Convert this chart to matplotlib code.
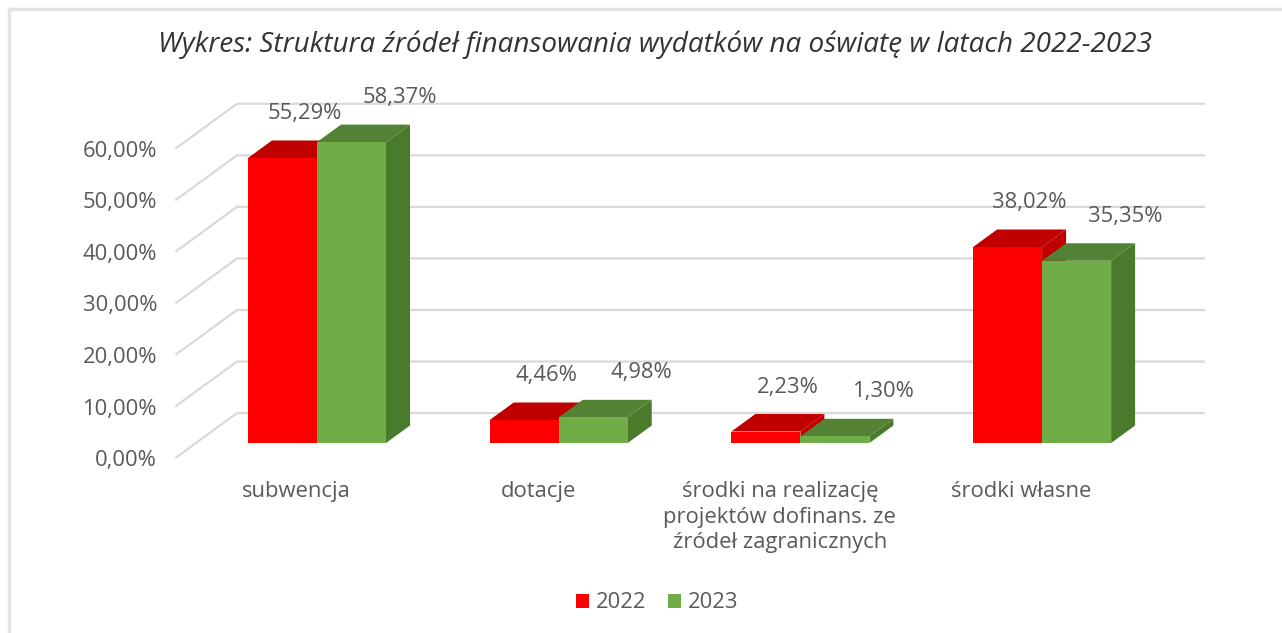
import matplotlib
matplotlib.use('Agg')
import matplotlib.pyplot as plt
from matplotlib.patches import Polygon, Rectangle
from matplotlib.lines import Line2D

plt.rcParams['font.family'] = ['Open Sans', 'DejaVu Sans']

# data
categories = ['subwencja', 'dotacje',
              'środki na realizację\nprojektów dofinans. ze\nźródeł zagranicznych',
              'środki własne']
years = ['2022', '2023']
values_2022 = [55.29, 4.46, 2.23, 38.02]
values_2023 = [58.37, 4.98, 1.30, 35.35]
y_ticks = [0, 10, 20, 30, 40, 50, 60]
title = 'Wykres: Struktura źródeł finansowania wydatków na oświatę w latach 2022-2023'

# styling
W, H = 1282, 633
CAT_PX = 241.7       # pixels per category
PCT_PX = 5.155       # pixels per percent
X0_PX = 317          # pixel x of first category centre
Y0_PX = 443          # pixel y (from top) of 0% at the bar front plane
DEPTH_PX = (24, -17.5)
DX = DEPTH_PX[0] / CAT_PX
DY = -DEPTH_PX[1] / PCT_PX
BAR_W = 69 / CAT_PX
WALL_FRONT = -0.86   # depth of left wall front edge (in bar depths)
WALL_BACK = 1.71     # depth of back wall
WALL_RIGHT = (1205 - X0_PX) / CAT_PX
TXT = '#595959'
GRID = '#d9d9d9'
FS = 15.8

face = {'2022': ('#ff0000', '#c00000', '#c00000'),
        '2023': ('#70ad47', '#548235', '#4a7a2c')}


def proj(x, y, d):
    return (x + d * DX, y + d * DY)


fig = plt.figure(figsize=(W / 100, H / 100), dpi=100)
ax = fig.add_axes([0, 0, 1, 1])
ax.set_xlim(-X0_PX / CAT_PX, (W - X0_PX) / CAT_PX)
ax.set_ylim((Y0_PX - H) / PCT_PX, Y0_PX / PCT_PX)
ax.axis('off')

# walls: left wall diagonals + back wall gridlines
wall_x = (237 - X0_PX) / CAT_PX - WALL_BACK * DX
for v in y_ticks:
    fx, fy = proj(wall_x, v, WALL_FRONT)
    bx, by = proj(wall_x, v, WALL_BACK)
    ax.plot([fx, bx, WALL_RIGHT], [fy, by, by], color=GRID, lw=1.6, zorder=1,
            solid_capstyle='butt')
    ax.text((157 - X0_PX) / CAT_PX, fy - 0.5, '{:.2f}%'.format(v).replace('.', ','),
            ha='right', va='center', fontsize=FS, color=TXT)


def draw_bar(x0, v, year):
    front, top, side = face[year]
    x1 = x0 + BAR_W
    ax.add_patch(Polygon([proj(x1, 0, 0), proj(x1, 0, 1), proj(x1, v, 1), proj(x1, v, 0)],
                         closed=True, fc=side, ec='none', zorder=3))
    ax.add_patch(Polygon([proj(x0, v, 0), proj(x0, v, 1), proj(x1, v, 1), proj(x1, v, 0)],
                         closed=True, fc=top, ec='none', zorder=3))
    ax.add_patch(Rectangle((x0, 0), BAR_W, v, fc=front, ec='none', zorder=3))


label_dx = {'2022': 0.09, '2023': 0.20}
for i, cat in enumerate(categories):
    for year, vals, x0 in (('2022', values_2022, i - BAR_W), ('2023', values_2023, i)):
        v = vals[i]
        draw_bar(x0, v, year)
        ax.text(x0 + BAR_W / 2 + label_dx[year], v + 8.6, '{:.2f}%'.format(v).replace('.', ','),
                ha='center', va='center', fontsize=FS, color=TXT, zorder=5)
    lx, ly = proj(i, 0, WALL_FRONT)
    ax.text(lx, ly - 4.4, cat, ha='center', va='top', fontsize=FS, color=TXT,
            linespacing=1.3)

# title
fig.text(655 / W, 1 - 45 / H, title, ha='center', va='center', fontsize=20.1,
         style='italic', color='#333333')

# legend
handles = [Rectangle((0, 0), 1, 1, fc=face[y][0]) for y in years]
fig.legend(handles, years, loc='center', bbox_to_anchor=(657 / W, 1 - 603 / H),
           ncol=2, frameon=False, fontsize=FS, handlelength=0.6, handleheight=0.6,
           handletextpad=0.3, columnspacing=1.0, labelcolor=TXT)

# outer frame
fig.add_artist(Line2D([9 / W, 1], [1 - 9 / H, 1 - 9 / H], color='#e3e3e3', lw=2.5))
fig.add_artist(Line2D([9 / W, 9 / W], [0, 1 - 9 / H], color='#e3e3e3', lw=2.5))

fig.savefig('out.png', dpi=100)
